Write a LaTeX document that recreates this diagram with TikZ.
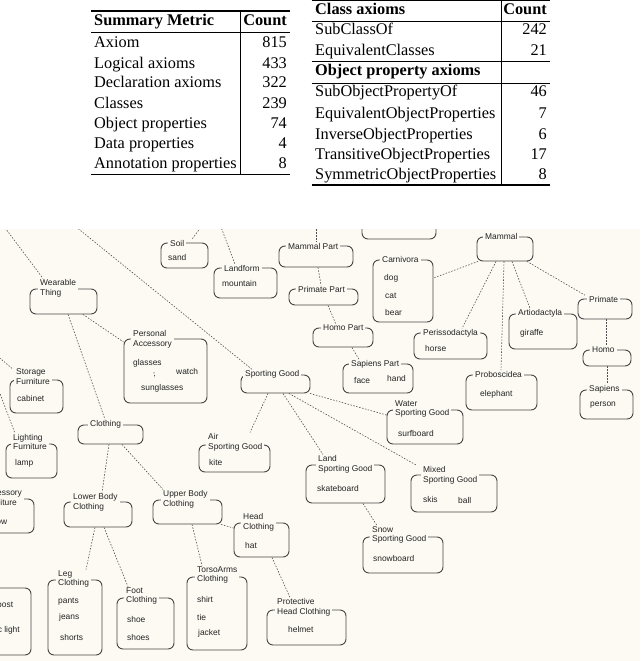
\documentclass[tikz,border=0pt]{standalone}
\usepackage{fontspec}
\setmainfont{Liberation Serif}
\newfontfamily\dgsans{Liberation Sans}
\usetikzlibrary{fit}
\definecolor{bgc}{RGB}{252,250,243}
\definecolor{boxc}{RGB}{70,70,70}
\definecolor{linkc}{RGB}{80,80,80}
\definecolor{txtc}{RGB}{35,35,35}
\begin{document}
\begin{tikzpicture}[x=1pt,y=-1pt,
 box/.style={draw=boxc, line width=0.9pt, rounded corners=6pt, inner sep=0pt},
 ttl/.style={fill=bgc, inner xsep=2pt, inner ysep=0.5pt, anchor=west, align=left, text=txtc, font=\dgsans\fontsize{8.4}{9.8}\selectfont},
 itm/.style={inner sep=0pt, anchor=west, text=txtc, font=\dgsans\fontsize{8.4}{9.8}\selectfont},
 link/.style={draw=linkc, line width=0.6pt, dash pattern=on 1.5pt off 1.5pt},
 tb/.style={inner sep=0pt, anchor=base west, font=\fontsize{16.3}{20}\selectfont},
 tn/.style={inner sep=0pt, anchor=base east, font=\fontsize{16.3}{20}\selectfont},
 thick rule/.style={line width=1.4pt},
 thin rule/.style={line width=0.8pt},
]
\useasboundingbox (0,0) rectangle (640,661);
\fill[white] (0,0) rectangle (640,229);
% ---------------- table 1
\draw[thick rule] (91,11) -- (290,11);
\draw[thin rule] (91,32.3) -- (290,32.3);
\draw[line width=1.2pt] (91,174.3) -- (290,174.3);
\draw[thin rule] (240.7,11) -- (240.7,174.3);
\node[tb] (t1h1) at (94,25.8) {\bfseries Summary Metric};
\node[tn] (t1h2) at (287,25.8) {\bfseries Count};
\node[tb] (t1a) at (94,48) {Axiom};
\node[tb] (t1b) at (94,68) {Logical axioms};
\node[tb] (t1c) at (94,88) {Declaration axioms};
\node[tb] (t1d) at (94,108) {Classes};
\node[tb] (t1e) at (94,128) {Object properties};
\node[tb] (t1f) at (94,148) {Data properties};
\node[tb] (t1g) at (94,168) {Annotation properties};
\node[tn] (t1na) at (287,48) {815};
\node[tn] (t1nb) at (287,68) {433};
\node[tn] (t1nc) at (287,88) {322};
\node[tn] (t1nd) at (287,108) {239};
\node[tn] (t1ne) at (287,128) {74};
\node[tn] (t1nf) at (287,148) {4};
\node[tn] (t1ng) at (287,168) {8};
% ---------------- table 2
\draw[thick rule] (311.7,0.8) -- (550,0.8);
\draw[thin rule] (311.7,21) -- (550,21);
\draw[thin rule] (311.7,61.7) -- (550,61.7);
\draw[thin rule] (311.7,83.3) -- (550,83.3);
\draw[line width=1.2pt] (311.7,185) -- (550,185);
\draw[thin rule] (501,0) -- (501,185);
\node[tb] (t2h1) at (315,14.3) {\bfseries Class axioms};
\node[tn] (t2h2) at (547,14.3) {\bfseries Count};
\node[tb] (t2a) at (315,34.8) {SubClassOf};
\node[tb] (t2b) at (315,55.8) {EquivalentClasses};
\node[tb] (t2h3) at (315,75.8) {\bfseries Object property axioms};
\node[tb] (t2c) at (315,96.8) {SubObjectPropertyOf};
\node[tb] (t2d) at (315,118) {EquivalentObjectProperties};
\node[tb] (t2e) at (315,139) {InverseObjectProperties};
\node[tb] (t2f) at (315,159) {TransitiveObjectProperties};
\node[tb] (t2g) at (315,179) {SymmetricObjectProperties};
\node[tn] (t2na) at (547,34.8) {242};
\node[tn] (t2nb) at (547,55.8) {21};
\node[tn] (t2nc) at (547,96.8) {46};
\node[tn] (t2nd) at (547,118) {7};
\node[tn] (t2ne) at (547,139) {6};
\node[tn] (t2nf) at (547,159) {17};
\node[tn] (t2ng) at (547,179) {8};
% ---------------- diagram
\fill[bgc] (0,229) rectangle (640,661);
\begin{scope}
\clip (0,229) rectangle (640,661);
% boxes
\node[box, fit={(161,243) (208,268)}] (soil) {};
\node[box, fit={(214,268) (277,298)}] (landform) {};
\node[box, fit={(279,246) (353,267)}] (mammalpart) {};
\node[box, fit={(289,289) (358,305)}] (primatepart) {};
\node[box, fit={(313,328) (373,347)}] (homopart) {};
\node[box, fit={(343,364) (413,393)}] (sapienspart) {};
\node[box, fit={(362,180) (436,239)}] (bush) {};
\node[box, fit={(373,260) (433,322)}] (carnivora) {};
\node[box, fit={(477,237) (533,261)}] (mammal) {};
\node[box, fit={(414,333) (487,359)}] (perisso) {};
\node[box, fit={(509,314) (577,349)}] (artio) {};
\node[box, fit={(578,299) (632,319)}] (primate) {};
\node[box, fit={(583,350) (631,366)}] (homo) {};
\node[box, fit={(580,390) (633,419)}] (sapiens) {};
\node[box, fit={(466,375) (537,410)}] (probo) {};
\node[box, fit={(30,289) (97,314)}] (wearable) {};
\node[box, fit={(124,339) (207,403)}] (personal) {};
\node[box, fit={(10,380) (63,413)}] (storage) {};
\node[box, fit={(6,444) (57,478)}] (lighting) {};
\node[box, fit={(-40,499) (34,533)}] (accfurn) {};
\node[box, fit={(-40,588) (31,655)}] (street) {};
\node[box, fit={(78,425) (143,444)}] (clothing) {};
\node[box, fit={(64,502) (132,527)}] (lowerbody) {};
\node[box, fit={(153,500) (222,524)}] (upperbody) {};
\node[box, fit={(48,580) (102,655)}] (leg) {};
\node[box, fit={(117,598) (174,649)}] (foot) {};
\node[box, fit={(187,577) (247,650)}] (torso) {};
\node[box, fit={(234,523) (289,557)}] (head) {};
\node[box, fit={(267,610) (346,645)}] (protective) {};
\node[box, fit={(241,375) (310,393)}] (sporting) {};
\node[box, fit={(387,410) (463,444)}] (water) {};
\node[box, fit={(199,445) (270,472)}] (air) {};
\node[box, fit={(306,465) (385,503)}] (land) {};
\node[box, fit={(411,475) (497,512)}] (mixed) {};
\node[box, fit={(363,537) (443,573)}] (snow) {};
% titles
\node[ttl] (soil-t) at (168,243) {Soil};
\node[ttl] (landform-t) at (222,268) {Landform};
\node[ttl] (mammalpart-t) at (286,246) {Mammal Part};
\node[ttl] (primatepart-t) at (296,289) {Primate Part};
\node[ttl] (homopart-t) at (321,328) {Homo Part};
\node[ttl] (sapienspart-t) at (349,364) {Sapiens Part};
\node[ttl] (carnivora-t) at (380,259) {Carnivora};
\node[ttl] (mammal-t) at (483,236) {Mammal};
\node[ttl] (perisso-t) at (421,333) {Perissodactyla};
\node[ttl] (artio-t) at (516,313) {Artiodactyla};
\node[ttl] (primate-t) at (587,299) {Primate};
\node[ttl] (homo-t) at (590,350) {Homo};
\node[ttl] (sapiens-t) at (587,389) {Sapiens};
\node[ttl] (probo-t) at (473,374) {Proboscidea};
\node[ttl] (wearable-t) at (38,288) {Wearable\\Thing};
\node[ttl] (personal-t) at (131,339) {Personal\\Accessory};
\node[ttl] (storage-t) at (14,377) {Storage\\Furniture};
\node[ttl] (lighting-t) at (11,442) {Lighting\\Furniture};
\node[ttl] (accfurn-t) at (-19,497.5) {Accessory\\Furniture};
\node[ttl] (clothing-t) at (88,424) {Clothing};
\node[ttl] (lowerbody-t) at (71,502) {Lower Body\\Clothing};
\node[ttl] (upperbody-t) at (161,499) {Upper Body\\Clothing};
\node[ttl] (leg-t) at (56,579) {Leg\\Clothing};
\node[ttl] (foot-t) at (124,596) {Foot\\Clothing};
\node[ttl] (torso-t) at (195,575) {TorsoArms\\Clothing};
\node[ttl] (head-t) at (241,522) {Head\\Clothing};
\node[ttl] (protective-t) at (275,607) {Protective\\Head Clothing};
\node[ttl] (sporting-t) at (243,374) {Sporting Good};
\node[ttl] (water-t) at (393,409) {Water\\Sporting Good};
\node[ttl] (air-t) at (206,442) {Air\\Sporting Good};
\node[ttl] (land-t) at (316,464) {Land\\Sporting Good};
\node[ttl] (mixed-t) at (421,475) {Mixed\\Sporting Good};
\node[ttl] (snow-t) at (370,535) {Snow\\Sporting Good};
% items
\node[itm] (sand) at (168,257) {sand};
\node[itm] (mountain) at (222,283) {mountain};
\node[itm] (face) at (354,380) {face};
\node[itm] (hand) at (387,378) {hand};
\node[itm] (bushi) at (388,225) {bush};
\node[itm] (dog) at (384,278) {dog};
\node[itm] (cat) at (385,296) {cat};
\node[itm] (bear) at (385,312) {bear};
\node[itm] (horse) at (425,348) {horse};
\node[itm] (giraffe) at (520,333) {giraffe};
\node[itm] (person) at (590,405) {person};
\node[itm] (elephant) at (480,394) {elephant};
\node[itm] (glasses) at (133,363) {glasses};
\node[itm] (watch) at (176,371) {watch};
\node[itm] (sunglasses) at (141,388) {sunglasses};
\node[itm] (cabinet) at (17,398) {cabinet};
\node[itm] (lamp) at (15,463) {lamp};
\node[itm] (pillow) at (-14,522) {pillow};
\node[itm] (lamppost) at (-23.5,605) {lamp post};
\node[itm] (traffic) at (-18.6,630) {traffic light};
\node[itm] (pants) at (58,602) {pants};
\node[itm] (jeans) at (59,617) {jeans};
\node[itm] (shorts) at (60,637) {shorts};
\node[itm] (shoe) at (127,619) {shoe};
\node[itm] (shoes) at (127,637) {shoes};
\node[itm] (shirt) at (197,599) {shirt};
\node[itm] (tie) at (197,617) {tie};
\node[itm] (jacket) at (198,633) {jacket};
\node[itm] (hat) at (245,545) {hat};
\node[itm] (helmet) at (288,629) {helmet};
\node[itm] (surfboard) at (398,433) {surfboard};
\node[itm] (kite) at (209,462) {kite};
\node[itm] (skateboard) at (317,488) {skateboard};
\node[itm] (skis) at (423,499) {skis};
\node[itm] (ball) at (458,500) {ball};
\node[itm] (snowboard) at (373,558) {snowboard};
% free ends above / left of the picture
\coordinate (e1) at (1.4,223);
\coordinate (e2) at (71.2,223);
\coordinate (e3) at (204,223);
\coordinate (e4) at (219.5,223);
\coordinate (e5) at (316,223);
\coordinate (e6) at (-12,348);
\coordinate (e7) at (-4,383);
% connectors
\draw[link] (e1) -- (wearable-t.north -| 43,0);
\draw[link] (e2) -- (sporting-t.north -| 252,0);
\draw[link] (e3) -- (soil-t.north -| 192,0);
\draw[link] (e4) -- (landform-t.north -| 235,0);
\draw[link] (e5) -- (mammalpart-t.north -| 316,0);
\draw[link] (e6) -- (storage-t.north -| 12,0);
\draw[link] (e7) -- (lighting-t.north -| 15,0);
\draw[link] (wearable.south -| 83,0) -- (personal.west |- 0,342);
\draw[link] (wearable.south -| 68,0) -- (clothing-t.north -| 105,0);
\draw[link, shorten <=5pt, shorten >=6pt] (glasses.south -| 153,0) -- (sunglasses.north -| 156,0);
\draw[link] (mammalpart.south -| 318,0) -- (primatepart-t.north -| 321,0);
\draw[link] (primatepart.south -| 328,0) -- (homopart-t.north -| 336,0);
\draw[link] (homopart.south -| 352,0) -- (sapienspart-t.north -| 359,0);
\draw[link] (mammal.south -| 478,0) -- (carnivora.east |- 0,278);
\draw[link] (mammal.south -| 496,0) -- (perisso-t.north -| 462,0);
\draw[link] (mammal.south -| 504,0) -- (probo-t.north -| 501,0);
\draw[link] (mammal.south -| 512,0) -- (artio-t.north -| 530,0);
\draw[link] (mammal.south -| 527,0) -- (primate-t.north -| 585,0);
\draw[link] (primate.south -| 606,0) -- (homo-t.north -| 606,0);
\draw[link] (homo.south -| 607,0) -- (sapiens-t.north -| 607,0);
\draw[link] (sporting.south -| 310,0) -- (water.west |- 0,415);
\draw[link] (sporting.south -| 268,0) -- (air-t.north -| 250,0);
\draw[link] (sporting.south -| 283,0) -- (land-t.north -| 323,0);
\draw[link] (sporting.south -| 289,0) -- (mixed-t.north -| 417,0);
\draw[link] (land.south -| 363,0) -- (snow-t.north -| 377,0);
\draw[link] (clothing.south -| 122,0) -- (upperbody-t.north -| 163,0);
\draw[link] (clothing.south -| 109,0) -- (lowerbody-t.north -| 102,0);
\draw[link] (upperbody.south -| 192,0) -- (torso-t.north -| 202,0);
\draw[link] (upperbody.south -| 221,0) -- (head.west |- 0,528);
\draw[link] (head.south -| 272,0) -- (protective-t.north -| 290,0);
\draw[link] (lowerbody.south -| 95,0) -- (leg-t.north -| 86,0);
\draw[link] (lowerbody.south -| 104,0) -- (foot-t.north -| 128,0);
\end{scope}
\end{tikzpicture}
\end{document}
